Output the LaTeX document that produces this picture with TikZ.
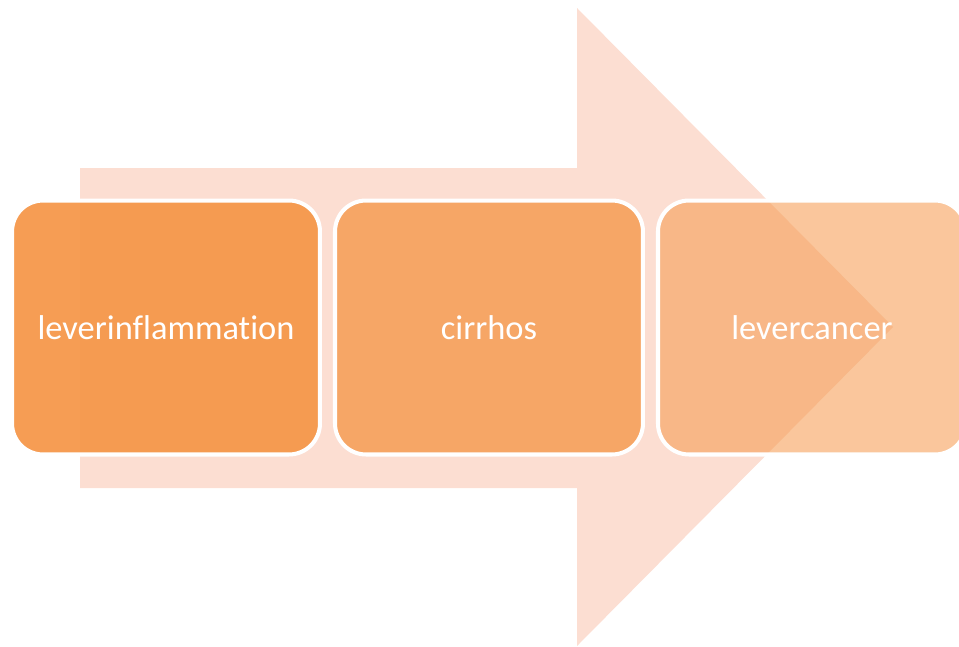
\documentclass[tikz,border=0pt]{standalone}
\usepackage{fontspec}
\setsansfont{Carlito}[Ligatures=NoCommon]
\usetikzlibrary{positioning}
\definecolor{arrowpeach}{RGB}{252,222,210}
\definecolor{stageorange}{RGB}{245,152,75}
\tikzset{
  stage/.style = {rectangle, draw=white, line width=2.3pt, rounded corners=0.62cm,
                  minimum width=6.16cm, minimum height=5.08cm,
                  fill=stageorange, text=white, text opacity=1,
                  font=\sffamily\fontsize{19.6}{23}\selectfont},
  flow/.style  = {fill=arrowpeach}
}
\begin{document}
\begin{tikzpicture}[x=0.02cm, y=-0.02cm]
  \useasboundingbox (0,0) rectangle (959,646);
  % big background arrow
  \fill[flow] (80,168) -- (577,168) -- (577,8) -- (893,327)
              -- (577,646) -- (577,488) -- (80,488) -- cycle;
  \node[stage, fill opacity=0.95] (liver) at (166,327.5) {leverinflammation};
  \node[stage, fill opacity=0.8, right=0.22cm of liver] (cirrhosis) {cirrhos};
  \node[stage, fill opacity=0.55, right=0.22cm of cirrhosis] (cancer) {levercancer};
\end{tikzpicture}
\end{document}
